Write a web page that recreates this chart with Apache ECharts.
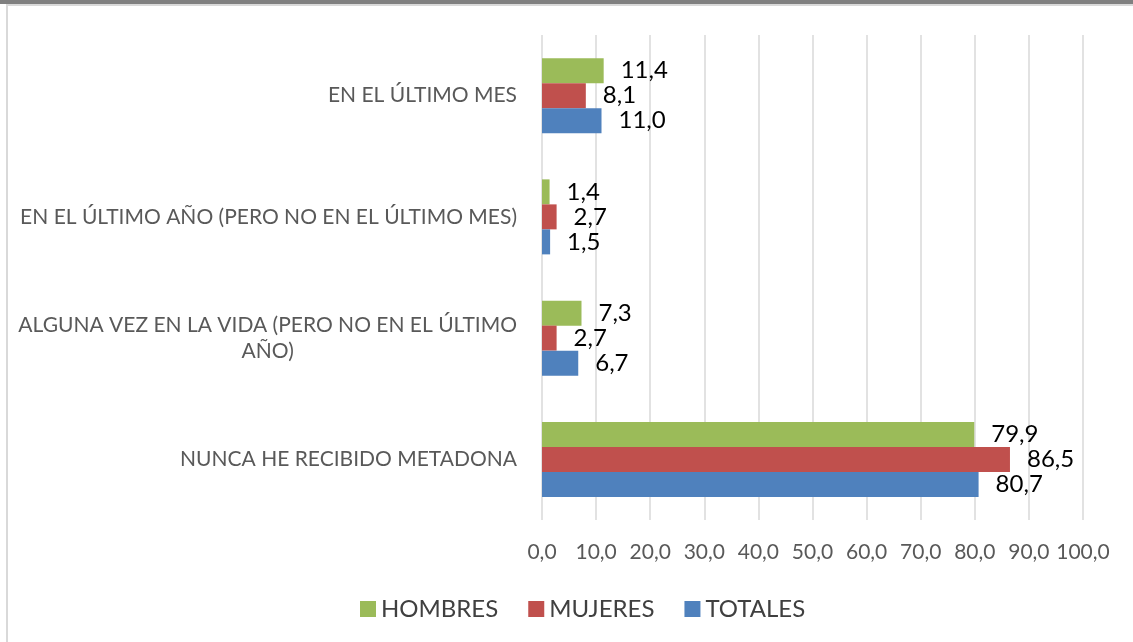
<!DOCTYPE html>
<html lang="es">
<head>
    <meta charset="UTF-8">
    <title>Metadona</title>
    <script src="https://cdn.jsdelivr.net/npm/echarts@6/dist/echarts.min.js"></script>
    <style>
        html, body { margin: 0; padding: 0; background: #fff; }
        #chart { width: 1133px; height: 642px; }
    </style>
</head>
<body>
<div id="chart"></div>
<script>
  // categorias de abajo hacia arriba (el eje de categorias empieza abajo)
  var categorias = [
    'NUNCA HE RECIBIDO METADONA',
    'ALGUNA VEZ EN LA VIDA (PERO NO EN EL ÚLTIMO\nAÑO)',
    'EN EL ÚLTIMO AÑO (PERO NO EN EL ÚLTIMO MES)',
    'EN EL ÚLTIMO MES'
  ];
  var hombres = [79.9, 7.3, 1.4, 11.4];
  var mujeres = [86.5, 2.7, 2.7, 8.1];
  var totales = [80.7, 6.7, 1.5, 11.0];

  var fuente = 'Lato';

  function etiqueta(p) {
    return p.value.toFixed(1).replace('.', ',');
  }

  function serie(nombre, color, datos) {
    return {
      name: nombre,
      type: 'bar',
      barWidth: 25,
      barGap: '0%',
      itemStyle: { color: color },
      label: {
        show: true,
        position: 'right',
        distance: 17,
        formatter: etiqueta,
        color: '#000',
        fontFamily: fuente,
        fontSize: 24
      },
      data: datos
    };
  }

  var options = {
    animation: false,
    backgroundColor: '#fff',
    graphic: [
      // marco del grafico
      { type: 'rect', shape: { x: 0, y: 0, width: 1133, height: 4 }, style: { fill: '#808080' } },
      { type: 'rect', shape: { x: 6, y: 4, width: 1127, height: 2 }, style: { fill: '#d9d9d9' } },
      { type: 'rect', shape: { x: 6, y: 4, width: 2, height: 638 }, style: { fill: '#d9d9d9' } }
    ],
    legend: {
      left: 355,
      top: 592,
      itemWidth: 16,
      itemHeight: 16,
      itemGap: 30,
      icon: 'rect',
      textStyle: { color: '#404040', fontFamily: fuente, fontSize: 24 }
    },
    grid: {
      left: 542,
      right: 50,
      top: 35,
      bottom: 122
    },
    xAxis: {
      type: 'value',
      min: 0,
      max: 100,
      interval: 10,
      axisLine: { show: false },
      axisTick: { show: false },
      axisLabel: {
        margin: 22,
        color: '#595959',
        fontFamily: fuente,
        fontSize: 21,
        formatter: function(v) { return v.toFixed(1).replace('.', ','); }
      },
      splitLine: { lineStyle: { color: '#d9d9d9', width: 1.5 } }
    },
    yAxis: {
      type: 'category',
      data: categorias,
      axisLine: { show: false },
      axisTick: { show: false },
      axisLabel: {
        margin: 25,
        color: '#595959',
        fontFamily: fuente,
        fontSize: 21,
        lineHeight: 26,
        formatter: function(v) { return '{c|' + v.split('\n').join('}\n{c|') + '}'; },
        rich: {
          c: { align: 'center', color: '#595959', fontFamily: fuente, fontSize: 21, lineHeight: 26 }
        }
      }
    },
    series: [
      serie('HOMBRES', '#9bbb59', hombres),
      serie('MUJERES', '#c0504d', mujeres),
      serie('TOTALES', '#4f81bd', totales)
    ]
  };

  var myChart = echarts.init(document.getElementById('chart'));
  myChart.setOption(options);
</script>
</body>
</html>
